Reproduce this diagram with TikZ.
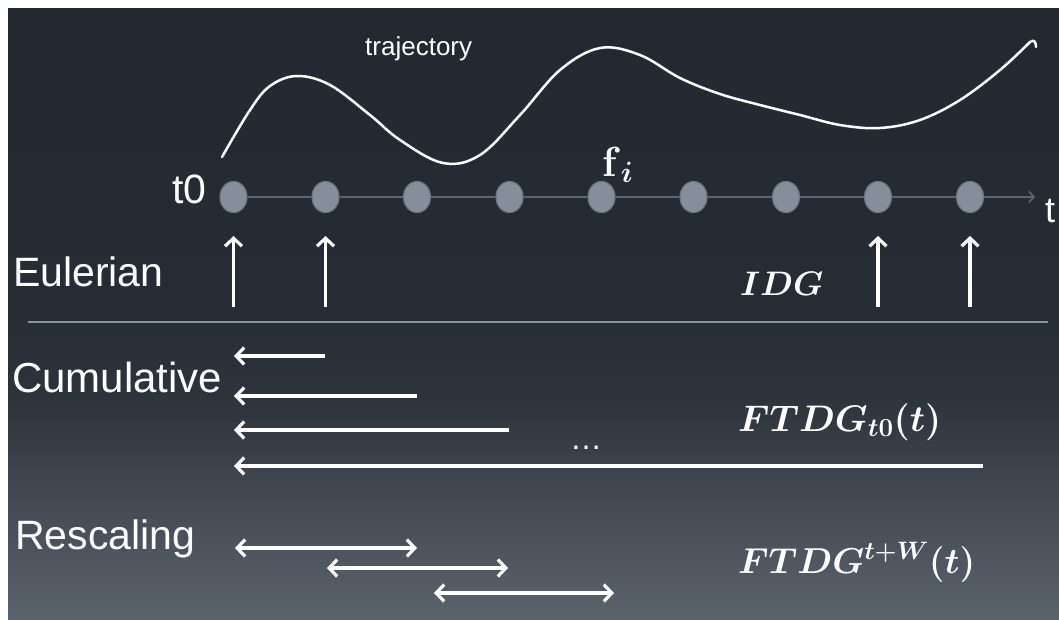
\IfFileExists{fix-cm.sty}{\RequirePackage{fix-cm}}{}
\documentclass[tikz,border=0pt]{standalone}
\usepackage[no-math]{fontspec}
\setmainfont{Liberation Sans}
\usepackage{bm}
\usetikzlibrary{arrows.meta,shapes.geometric}
\newcommand{\mysize}[1]{\fontsize{#1}{#1}\selectfont}
\definecolor{bgtop}{HTML}{232930}
\definecolor{bgA}{HTML}{262C34}
\definecolor{bgB}{HTML}{2E343C}
\definecolor{bgC}{HTML}{434A53}
\definecolor{bgbot}{HTML}{5A626B}
\definecolor{axiscol}{HTML}{5E6672}
\definecolor{dotfill}{HTML}{868E9C}
\definecolor{dotdraw}{HTML}{6D7582}
\definecolor{sepcol}{HTML}{8795A3}
\pgfdeclareverticalshading{bgshade}{100bp}{color(0bp)=(bgbot); color(25bp)=(bgbot); color(34.7bp)=(bgC); color(42.9bp)=(bgB); color(51.1bp)=(bgA); color(75bp)=(bgtop); color(100bp)=(bgtop)}
\tikzset{
  dotnode/.style={ellipse, fill=dotfill, draw=dotdraw, line width=1.2pt, minimum width=27pt, minimum height=31pt, inner sep=0pt},
  axisline/.style={draw=axiscol, line width=1.6pt},
  lbl/.style={text=white, inner sep=0pt, anchor=base west},
  warrow/.style={draw=white, line width=3.2pt, -{Straight Barb[length=8pt,width=17pt]}},
  wdarrow/.style={draw=white, line width=3.2pt, {Straight Barb[length=8pt,width=17pt]}-{Straight Barb[length=8pt,width=17pt]}},
}
\begin{document}
\begin{tikzpicture}[x=1pt,y=-1pt]
\useasboundingbox (0,0) rectangle (1059,619);
\shade[shading=bgshade] (8,8) rectangle (1059,619);

% trajectory
\draw[white, line width=2.5pt, line cap=round]
  plot[smooth, tension=0.6] coordinates {(222,157) (250,110) (270,86) (297,76) (330,85) (370,115) (400,140) (443,163) (480,155) (520,115) (560,70) (600,48) (640,55) (680,78) (720,94) (760,105) (800,115) (840,125) (880,128) (920,120) (960,100) (1000,70) (1030,42)}
  .. controls (1034,39) and (1036,42) .. (1036,47);
\node[lbl, font={\mysize{26}}] (traj) at (365,55) {trajectory};

% timeline nodes
\foreach \i/\x in {1/233.5,2/325.5,3/417,4/509.5,5/601.5,6/693.5,7/786,8/878,9/970}{
  \node[dotnode] (p\i) at (\x,197) {};
}
\coordinate (tend) at (1035,197);
\foreach \a/\b in {1/2,2/3,3/4,4/5,5/6,6/7,7/8,8/9}{
  \draw[axisline] (p\a.east) -- (p\b.west);
}
\draw[axisline, -{Straight Barb[length=5pt,width=11pt]}] (p9.east) -- (tend);
\node[lbl, font={\mysize{41}}] (t0) at (172,203) {t0};
\node[lbl, font={\mysize{36}}] (tlab) at (1045,222) {t};
\node[lbl, font={\mysize{42}}] (fi) at (602,176) {$\bm{\mathrm{f}}_{\bm{i}}$};

% Eulerian
\node[lbl, font={\mysize{41}}] (eul) at (13,286) {Eulerian};
\foreach \i in {1,2,8,9}{
  \coordinate (eb\i) at (p\i |- 0,307);
  \coordinate (et\i) at (p\i |- 0,236);
  \draw[warrow] (eb\i) -- (et\i);
}
\node[lbl, font={\mysize{34}}] (idg) at (740,295) {$\bm{IDG}$};

% separator
\coordinate (sepL) at (28,322);
\coordinate (sepR) at (1048,322);
\draw[sepcol, line width=1.2pt] (sepL) -- (sepR);

% Cumulative
\node[lbl, font={\mysize{42}}] (cum) at (12,392) {Cumulative};
\coordinate (c1a) at (325,356); \coordinate (c1b) at (234,356);
\coordinate (c2a) at (417,396); \coordinate (c2b) at (234,396);
\coordinate (c3a) at (509,430); \coordinate (c3b) at (234,430);
\coordinate (c4a) at (983,466); \coordinate (c4b) at (234,466);
\foreach \k in {1,2,3,4}{
  \draw[warrow] (c\k a) -- (c\k b);
}
\node[text=white, inner sep=0pt, font={\mysize{32}}] (dots) at (586,448) {…};
\node[lbl, font={\mysize{37}}] (ftdg1) at (738,431) {$\bm{FTDG_{t0}(t)}$};

% Rescaling
\node[lbl, font={\mysize{41}}] (resc) at (15,549) {Rescaling};
\coordinate (r1a) at (235,548); \coordinate (r1b) at (417,548);
\coordinate (r2a) at (327,568); \coordinate (r2b) at (508,568);
\coordinate (r3a) at (434,593); \coordinate (r3b) at (614,593);
\foreach \k in {1,2,3}{
  \draw[wdarrow] (r\k a) -- (r\k b);
}
\node[lbl, font={\mysize{36}}] (ftdg2) at (738,573) {$\bm{FTDG^{t+W}(t)}$};
\end{tikzpicture}
\end{document}
